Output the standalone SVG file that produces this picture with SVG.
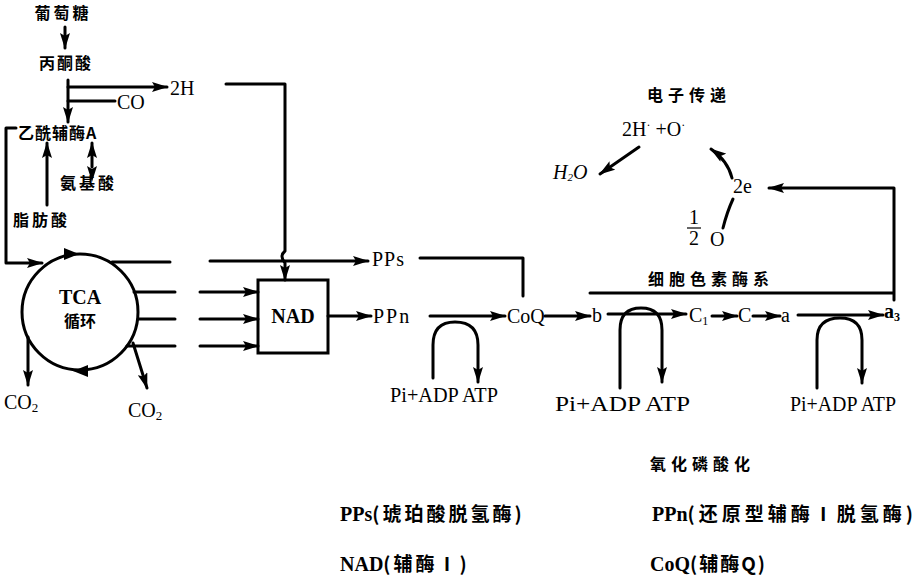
<svg xmlns="http://www.w3.org/2000/svg" width="920" height="576" viewBox="0 0 920 576">
<style>
.cn{font-family:"Noto Sans CJK SC","Noto Sans",sans-serif;font-weight:700;font-size:16px;fill:#000}
.lt{font-family:"Liberation Serif","Noto Sans CJK SC",serif;font-size:20px;fill:#000}
.b{font-weight:700}
.lg{font-size:19px}
.ln{fill:none;stroke:#000;stroke-width:3;stroke-linecap:round;stroke-linejoin:round}
.ar{marker-end:url(#ah)}
</style>
<defs>
<marker id="ah" viewBox="0 0 16 10" refX="15" refY="5" markerWidth="16" markerHeight="10" markerUnits="userSpaceOnUse" orient="auto">
<path d="M0,0 L16,5 L0,10 L3,5 z" fill="#000"/>
</marker>
<marker id="ahs" viewBox="0 0 16 10" refX="1" refY="5" markerWidth="16" markerHeight="10" markerUnits="userSpaceOnUse" orient="auto-start-reverse">
<path d="M0,0 L16,5 L0,10 L3,5 z" fill="#000"/>
</marker>
</defs>
<rect width="920" height="576" fill="#fff"/>

<g id="glucose"><text class="cn" x="63" y="19" text-anchor="middle" letter-spacing="3">葡萄糖</text></g>
<g id="pyruvate"><text class="cn" x="66" y="69" text-anchor="middle" letter-spacing="2">丙酮酸</text></g>
<g id="co"><text class="lt" x="117" y="109">CO</text></g>
<g id="h2"><text class="lt" x="170" y="95">2H</text></g>
<g id="acetylcoa"><text class="cn" x="18" y="139" font-size="17" letter-spacing="1">乙酰辅酶A</text></g>
<g id="aminoacid"><text class="cn" x="60" y="189" letter-spacing="3">氨基酸</text></g>
<g id="fattyacid"><text class="cn" x="13" y="226" letter-spacing="3">脂肪酸</text></g>

<g id="tca">
<circle cx="80" cy="312" r="58" fill="none" stroke="#000" stroke-width="3"/>
<path d="M64,248 L79,254 L64,260 z" fill="#000"/>
<path d="M88,365 L73,371 L88,377 z" fill="#000"/>
<text class="lt b" x="80" y="304" text-anchor="middle" font-size="18">TCA</text>
<text class="cn" x="80" y="327" text-anchor="middle">循环</text>
</g>
<g id="co2a"><text class="lt" x="4" y="409">CO<tspan font-size="13" dy="3">2</tspan></text></g>
<g id="co2b"><text class="lt" x="128" y="417">CO<tspan font-size="13" dy="3">2</tspan></text></g>

<g id="nad">
<rect x="258" y="280" width="70" height="73" fill="none" stroke="#000" stroke-width="3"/>
<text class="lt b" x="293" y="323" text-anchor="middle">NAD</text>
</g>
<g id="pps"><text class="lt" x="372" y="266" font-size="21" letter-spacing="1">PPs</text></g>
<g id="ppn"><text class="lt" x="373" y="323" font-size="21" letter-spacing="2">PPn</text></g>
<g id="coq"><text class="lt" x="507" y="323" font-size="21">CoQ</text></g>
<g id="atp1"><text class="lt" x="390" y="402" textLength="108" lengthAdjust="spacingAndGlyphs">Pi+ADP ATP</text></g>

<g id="cytb"><text class="lt" x="592" y="322" font-size="21">b</text></g>
<g id="cytc1"><text class="lt" x="689" y="322">C<tspan font-size="12" dy="3">1</tspan></text></g>
<g id="cytc"><text class="lt" x="738" y="322">C</text></g>
<g id="cyta"><text class="lt" x="781" y="322">a</text></g>
<g id="cyta3"><text class="lt b" x="884" y="318">a<tspan font-size="12" dy="3">3</tspan></text></g>
<g id="atp2"><text class="lt" x="555" y="411" textLength="135" lengthAdjust="spacingAndGlyphs">Pi+ADP ATP</text></g>
<g id="atp3"><text class="lt" x="790" y="411" textLength="106" lengthAdjust="spacingAndGlyphs">Pi+ADP ATP</text></g>
<g id="cytsys"><text class="cn" x="648" y="285" letter-spacing="5">细胞色素酶系</text></g>

<g id="etitle"><text class="cn" x="647" y="101" letter-spacing="5">电子传递</text></g>
<g id="hplus"><text class="lt" x="622" y="136" font-size="18">2H<tspan dy="-7" font-size="12">·</tspan><tspan dy="7"> +O</tspan><tspan dy="-7" font-size="12">·</tspan></text></g>
<g id="h2o"><text class="lt" x="553" y="179" font-size="18" font-style="italic">H<tspan font-size="11" dy="2">2</tspan><tspan dy="-2">O</tspan></text></g>
<g id="e2"><text class="lt" x="733" y="193" font-size="14" fill="#999">2e</text></g>
<g id="halfo">
<text class="lt" x="694" y="224" font-size="14" text-anchor="middle">1</text>
<line x1="687" y1="228" x2="701" y2="228" stroke="#000" stroke-width="1.2"/>
<text class="lt" x="694" y="245" font-size="14" text-anchor="middle">2</text>
<text class="lt" x="710" y="246">O</text>
</g>

<g id="legend">
<text class="cn" x="650" y="470" font-size="18" letter-spacing="5">氧化磷酸化</text>
<text class="cn lg" x="340" y="521"><tspan class="lt b">PPs</tspan><tspan letter-spacing="3">(琥珀酸脱氢酶)</tspan></text>
<text class="cn lg" x="652" y="521"><tspan class="lt">PPn</tspan><tspan letter-spacing="4">(还原型辅酶Ⅰ脱氢酶)</tspan></text>
<text class="cn lg" x="340" y="571"><tspan class="lt">NAD</tspan><tspan letter-spacing="3">(辅酶Ⅰ)</tspan></text>
<text class="cn lg" x="650" y="571"><tspan class="lt b">CoQ</tspan><tspan letter-spacing="2">(辅酶Q)</tspan></text>
</g>

<g id="connectors">
<path class="ln ar" d="M65,27 V48"/>
<path class="ln ar" d="M68,80 V122"/>
<path class="ln ar" d="M68,87 H167"/>
<path class="ln" d="M68,101 H115"/>
<path class="ln ar" d="M226,84 H285 V251 Q279,256 285,263 V280"/>
<path class="ln ar" d="M16,128 H6 V263 H42"/>
<path class="ln ar" d="M92,167 V143" marker-start="url(#ahs)"/>
<path class="ln ar" d="M47,205 V143"/>
<path class="ln" d="M112,262 H170"/>
<path class="ln ar" d="M210,261 H368"/>
<path class="ln" d="M134,292 H175"/>
<path class="ln" d="M138,319 H175"/>
<path class="ln" d="M127,346 H175"/>
<path class="ln ar" d="M200,292 H258"/>
<path class="ln ar" d="M200,319 H258"/>
<path class="ln ar" d="M200,346 H258"/>
<path class="ln ar" d="M28,337 V385"/>
<path class="ln ar" d="M133,343 L147,388"/>
<path class="ln ar" d="M328,316 H371"/>
<path class="ln" d="M420,258 H523 V296"/>
<path class="ln ar" d="M430,316 H505"/>
<path class="ln ar" d="M433,378 V345 Q433,322 455,322 Q478,322 478,345 V382"/>
<path class="ln ar" d="M545,316 H590"/>
<path class="ln ar" d="M608,314 H686"/>
<path class="ln ar" d="M712,316 H737"/>
<path class="ln ar" d="M753,316 H780"/>
<path class="ln ar" d="M798,315 H883"/>
<path class="ln ar" d="M620,388 V330 Q620,308 641,308 Q662,308 662,330 V382"/>
<path class="ln ar" d="M817,388 V340 Q817,318 840,318 Q862,318 862,340 V383"/>
<path class="ln" d="M590,293 H893"/>
<path class="ln ar" d="M894,300 V188 H769"/>
<path class="ln ar" d="M639,147 L600,174"/>
<path class="ln" d="M723,228 Q727,212 733,199"/>
<path class="ln ar" d="M732,178 Q728,161 711,149"/>
</g>
</svg>
